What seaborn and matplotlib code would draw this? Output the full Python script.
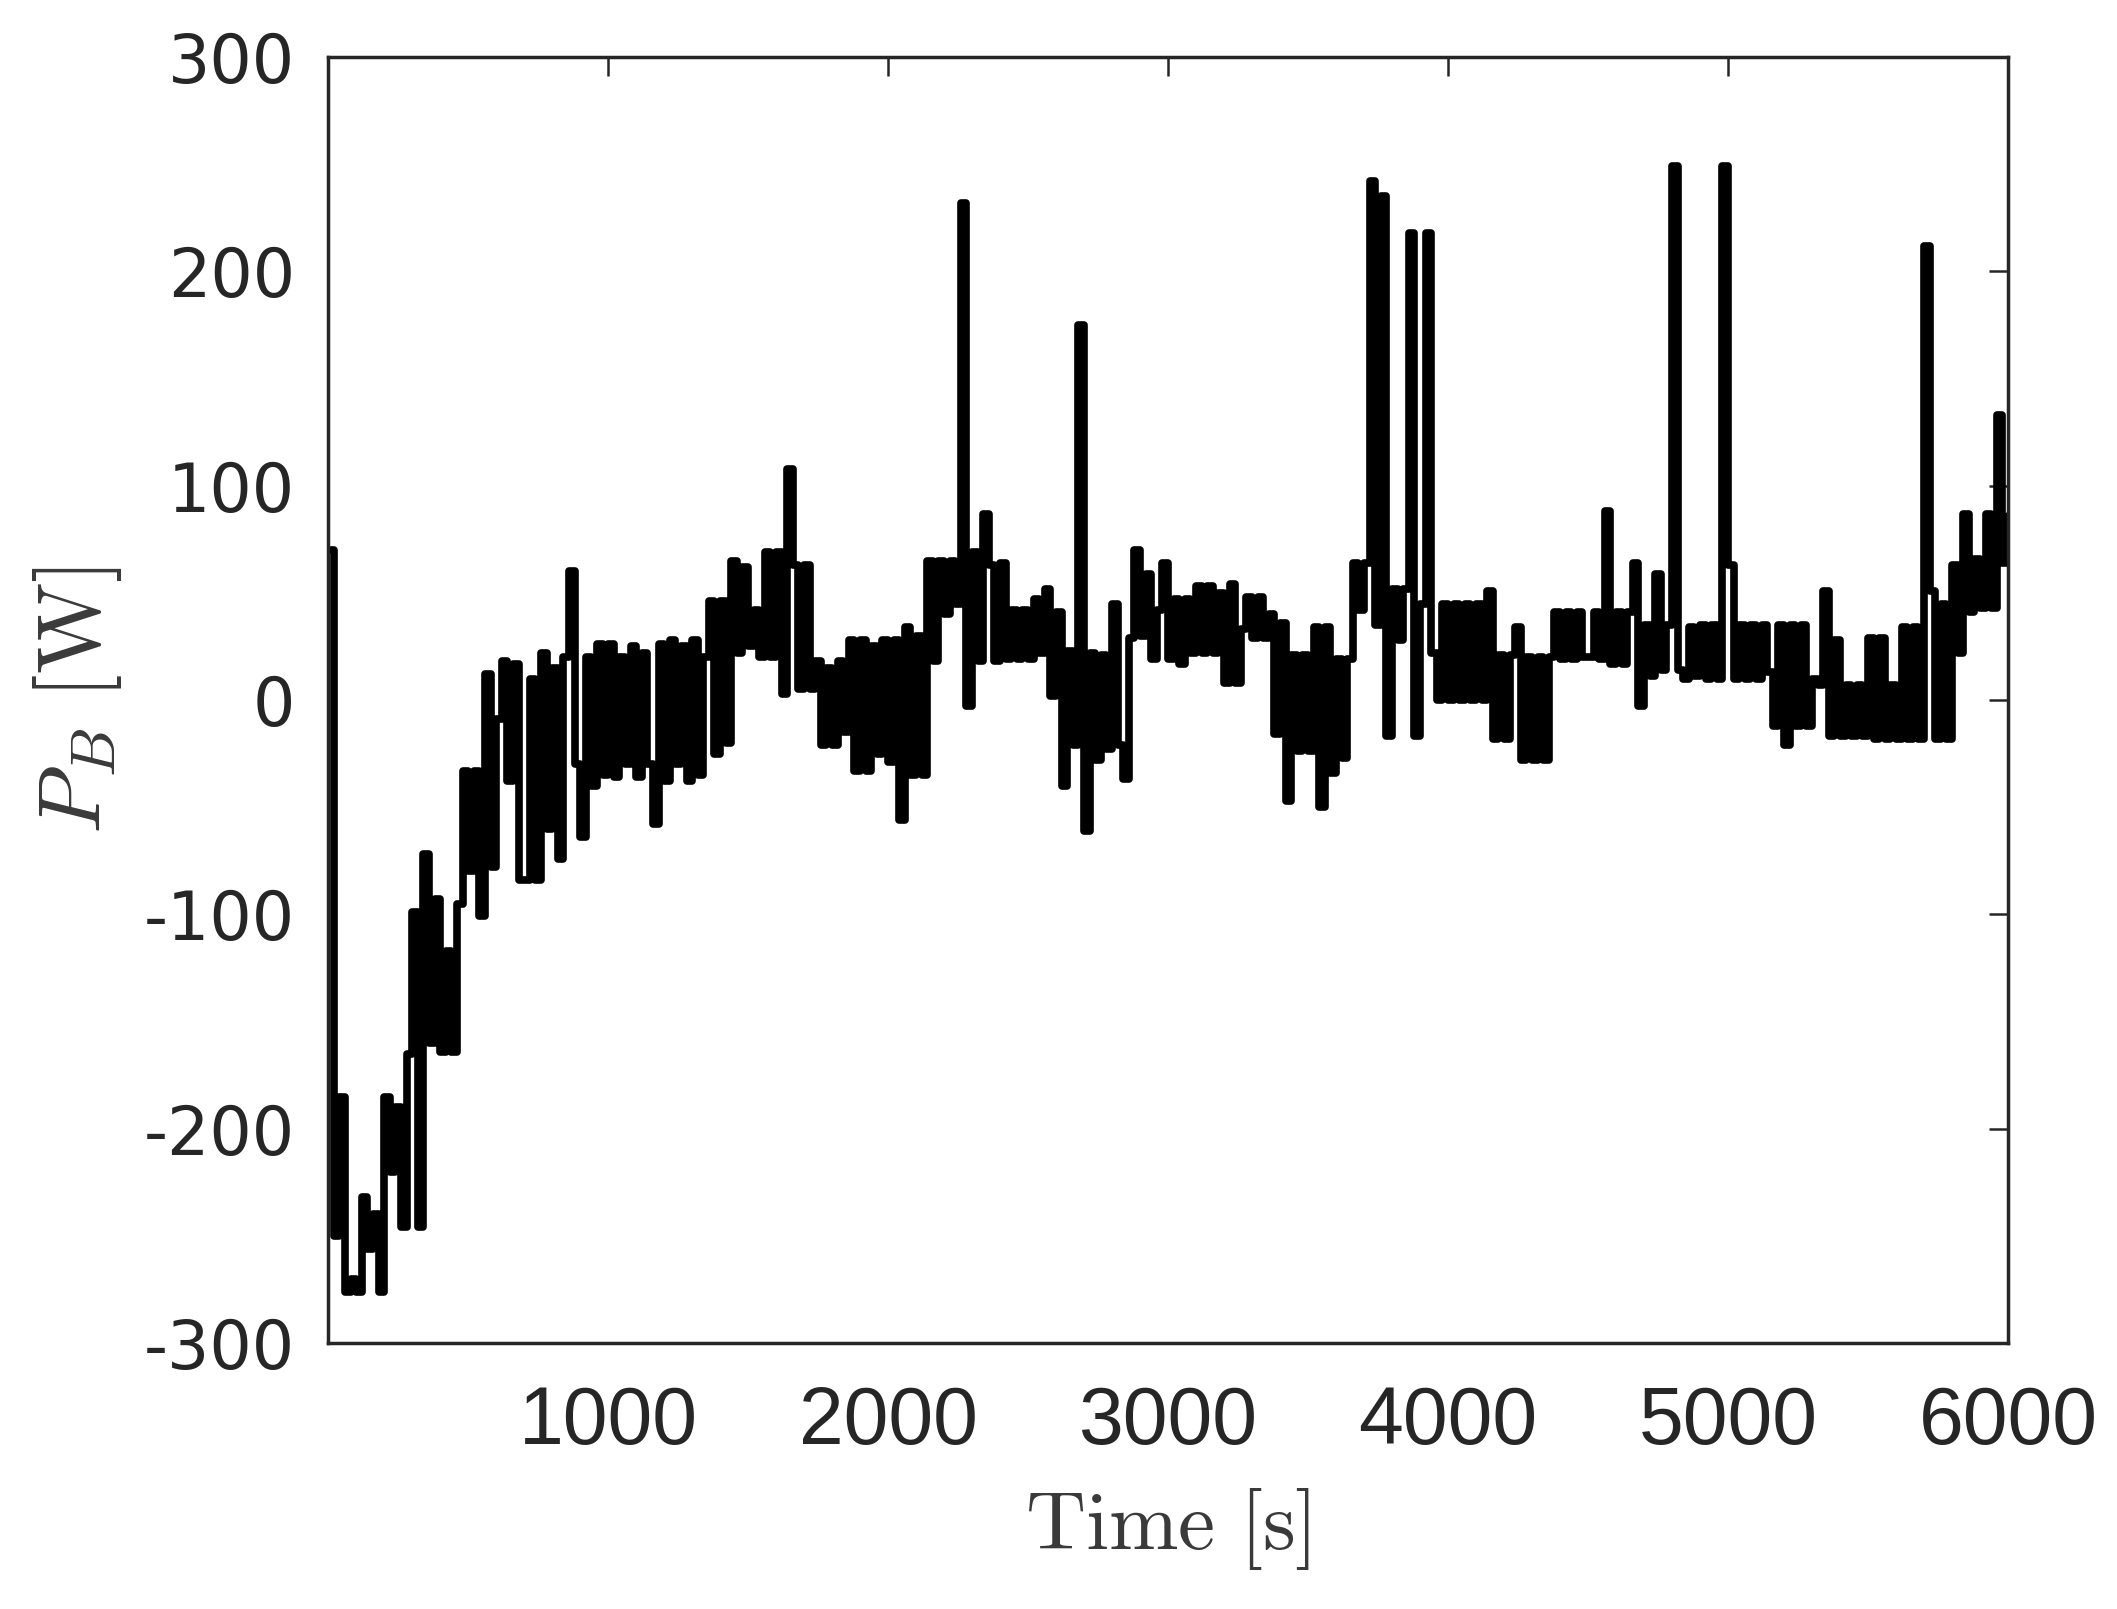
import numpy as np
import pandas as pd
import matplotlib
matplotlib.use("Agg")
import matplotlib.pyplot as plt
import seaborn as sns

# sample times (s), 20 s spacing, plus final point
time_s = list(range(0, 6000, 20)) + [6000]

# battery power P_B (W) (5 samples per 100 s)
power_w = [
    70, -250, -185, -276, -270,
    -276, -232, -256, -240, -276,
    -185, -220, -190, -246, -165,
    -99, -246, -72, -160, -93,
    -164, -117, -164, -95, -33,
    -80, -33, -101, 12, -78,
    -9, 18, -38, 17, -84,
    -84, 10, -84, 22, -60,
    15, -74, 20, 60, -30,
    -64, 20, -40, 26, -35,
    26, -36, 20, -30, 25,
    -36, 22, -30, -58, 26,
    -38, 28, -30, 25, -38,
    28, -35, 20, 46, -25,
    46, -20, 65, 22, 62,
    25, 42, 20, 69, 20,
    69, 3, 108, 63, 5,
    63, 5, 18, -21, 15,
    -21, 18, -15, 28, -33,
    28, -33, 25, -25, 28,
    -29, 28, -56, 34, -35,
    30, -35, 65, 18, 65,
    40, 65, 45, 232, -3,
    69, 18, 87, 63, 18,
    64, 19, 42, 19, 42,
    19, 47, 22, 52, 2,
    41, -40, 23, -21, 175,
    -61, 22, -28, 21, -23,
    45, -21, -37, 29, 70,
    30, 59, 19, 42, 64,
    19, 47, 17, 47, 22,
    53, 22, 53, 22, 50,
    8, 54, 8, 33, 48,
    29, 48, 29, 40, -16,
    36, -47, 21, -24, 21,
    -24, 34, -50, 34, -34,
    19, -27, 19, 64, 42,
    64, 242, 35, 235, -17,
    52, 28, 52, 218, -17,
    45, 218, 22, 0, 45,
    0, 45, 0, 45, 0,
    45, 0, 51, -18, 21,
    -18, 21, 34, -28, 20,
    -28, 20, -28, 20, 41,
    19, 41, 19, 41, 20,
    20, 41, 19, 88, 17,
    41, 17, 41, 64, -3,
    35, 11, 59, 14, 35,
    249, 14, 10, 34, 11,
    35, 10, 35, 10, 249,
    63, 10, 35, 10, 35,
    10, 35, 13, -12, 35,
    -21, 35, -12, 35, -12,
    10, 7, 51, -17, 28,
    -17, 7, -17, 7, -17,
    29, -18, 29, -18, 7,
    -18, 34, -18, 34, -18,
    212, 51, -18, 45, -18,
    63, 22, 87, 41, 66,
    43, 87, 43, 133, 64,
    86,
]

x_ticks = [1000, 2000, 3000, 4000, 5000, 6000]
y_ticks = [-300, -200, -100, 0, 100, 200, 300]

df = pd.DataFrame({"t": time_s, "p": power_w})

sns.set_theme(style="white")
plt.rcParams["font.family"] = ["Liberation Sans", "DejaVu Sans"]
plt.rcParams["mathtext.fontset"] = "cm"
plt.rcParams["axes.unicode_minus"] = False

fig = plt.figure(figsize=(21.17, 16.09), dpi=100)
ax = fig.add_axes([0.155, 0.1653, 0.7935, 0.7993])

sns.lineplot(data=df, x="t", y="p", ax=ax, color="black", linewidth=5.5,
             estimator=None, drawstyle="steps-post")

ax.set_xlim(0, 6000)
ax.set_ylim(-300, 300)
ax.set_xticks(x_ticks)
ax.set_yticks(y_ticks)
ax.set_xticklabels([str(v) for v in x_ticks], fontsize=58, color="#262626")
ax.set_yticklabels([str(v) for v in y_ticks], fontsize=48, color="#262626",
                   family=["DejaVu Sans"])

ax.tick_params(axis="both", which="both", direction="in", length=14, width=1.8,
               top=True, right=True, color="#262626")
ax.tick_params(axis="y", pad=24)
ax.tick_params(axis="x", pad=30)

for s in ax.spines.values():
    s.set_visible(True)
    s.set_color("#262626")
    s.set_linewidth(2.5)

ax.set_xlabel(r"$\mathrm{Time\ [s]}$", fontsize=60, color="#3a3a3a", labelpad=18)
ax.set_ylabel(r"$P_B\ \mathrm{[W]}$", fontsize=64, color="#3a3a3a", labelpad=14)
ax.grid(False)

fig.savefig("out.png", dpi=100, facecolor="white")
